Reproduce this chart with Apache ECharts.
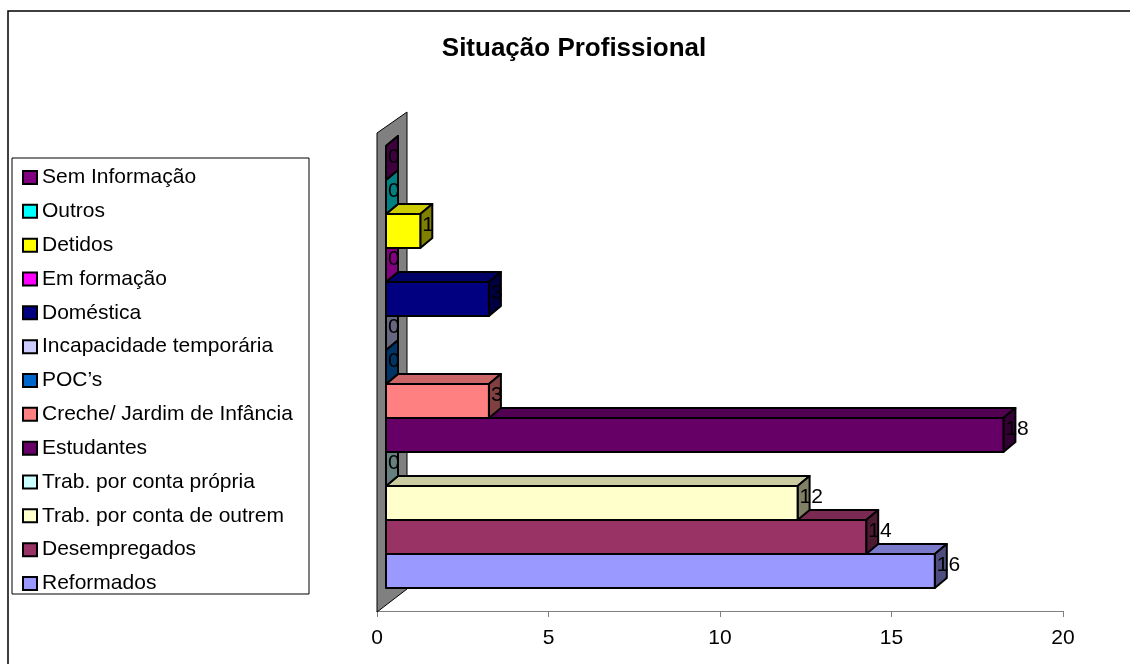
<!DOCTYPE html>
<html>
<head>
<meta charset="utf-8">
<script src="https://cdn.jsdelivr.net/npm/echarts@6/dist/echarts.min.js"></script>
<style>
  html, body { margin: 0; padding: 0; background: #fff; }
  #chart { width: 1130px; height: 664px; }
</style>
</head>
<body>
<div id="chart"></div>
<script>
// categories from bottom to top, as drawn
var categories = ['Reformados', 'Desempregados', 'Trab. por conta de outrem', 'Trab. por conta própria',
    'Estudantes', 'Creche/ Jardim de Infância', 'POC’s', 'Incapacidade temporária', 'Doméstica',
    'Em formação', 'Detidos', 'Outros', 'Sem Informação'];
var values = [16, 14, 12, 0, 18, 3, 0, 0, 3, 0, 1, 0, 0];
var colors = ['#9999FF', '#993366', '#FFFFCC', '#CCFFFF', '#660066', '#FF8080', '#0066CC',
    '#CCCCFF', '#000080', '#FF00FF', '#FFFF00', '#00FFFF', '#800080'];
var xTicks = [0, 5, 10, 15, 20];

var FONT = "'Liberation Sans', Arial, sans-serif";
var DX = 12, DY = -10, SHIFT = 9;

function shade(hex, k) {
    var n = parseInt(hex.slice(1), 16);
    var r = Math.round(((n >> 16) & 255) * k);
    var g = Math.round(((n >> 8) & 255) * k);
    var b = Math.round((n & 255) * k);
    return 'rgb(' + r + ',' + g + ',' + b + ')';
}

function renderBar(params, api) {
    var v = api.value(0), c = api.value(1);
    var color = colors[c];
    var p0 = api.coord([0, c]);
    var p1 = api.coord([v, c]);
    var h = api.size([0, 1])[1];
    var x0 = p0[0] + SHIFT, x1 = p1[0] + SHIFT;
    var yt = p0[1] - h / 2, yb = p0[1] + h / 2;
    var line = {stroke: '#000', lineWidth: 2, lineJoin: 'round'};
    var children = [];
    children.push({
        type: 'polygon',
        shape: {points: [[x0, yt], [x0 + DX, yt + DY], [x1 + DX, yt + DY], [x1, yt]]},
        style: Object.assign({fill: shade(color, 0.8)}, line)
    });
    children.push({
        type: 'polygon',
        shape: {points: [[x1, yt], [x1 + DX, yt + DY], [x1 + DX, yb + DY], [x1, yb]]},
        style: Object.assign({fill: shade(color, 0.5)}, line)
    });
    if (x1 > x0) {
        children.push({
            type: 'rect',
            shape: {x: x0, y: yt, width: x1 - x0, height: h},
            style: Object.assign({fill: color}, line)
        });
    }
    children.push({
        type: 'text',
        style: {
            text: String(v), x: x1 + 2, y: p0[1] - 6,
            fill: '#000', font: '21px ' + FONT,
            align: 'left', verticalAlign: 'middle'
        }
    });
    return {type: 'group', children: children};
}

var series = categories.map(function (name, i) {
    return {
        name: name,
        type: 'custom',
        renderItem: renderBar,
        itemStyle: {color: colors[i]},
        encode: {x: 0, y: 1},
        z: 2 + i,
        data: [[values[i], i]]
    };
});

var chart = echarts.init(document.getElementById('chart'));
chart.setOption({
    animation: false,
    backgroundColor: '#fff',
    textStyle: {fontFamily: FONT},
    title: {
        text: 'Situação Profissional',
        left: 569,
        textAlign: 'center',
        top: 31,
        textStyle: {fontSize: 26, fontWeight: 'bold', color: '#000', fontFamily: FONT}
    },
    graphic: [
        {type: 'rect', z: 0, shape: {x: 8, y: 11, width: 1200, height: 700},
            style: {fill: 'none', stroke: '#000', lineWidth: 1.5}},
        {type: 'rect', z: 0, shape: {x: 12, y: 158, width: 297, height: 436},
            style: {fill: '#fff', stroke: '#000', lineWidth: 1}},
        {type: 'polygon', z: 1, shape: {points: [[377, 133], [407, 112], [407, 589], [377, 612]]},
            style: {fill: '#808080', stroke: '#000', lineWidth: 1}}
    ],
    legend: {
        orient: 'vertical',
        left: 17,
        top: 162,
        itemWidth: 14,
        itemHeight: 13,
        itemGap: 12.83,
        icon: 'rect',
        z: 5,
        data: categories.slice().reverse(),
        itemStyle: {borderColor: '#000', borderWidth: 2},
        textStyle: {fontSize: 21, lineHeight: 21, color: '#000', fontFamily: FONT}
    },
    grid: {left: 377, right: 67, top: 146, bottom: 76},
    xAxis: {
        type: 'value',
        min: xTicks[0],
        max: xTicks[xTicks.length - 1],
        interval: 5,
        offset: 23,
        splitLine: {show: false},
        axisLine: {show: true, lineStyle: {color: '#808080', width: 1}},
        axisTick: {show: true, length: 6, lineStyle: {color: '#808080'}},
        axisLabel: {fontSize: 21, color: '#000', margin: 17, fontFamily: FONT}
    },
    yAxis: {
        type: 'category',
        data: categories,
        show: false
    },
    series: series
});
</script>
</body>
</html>
